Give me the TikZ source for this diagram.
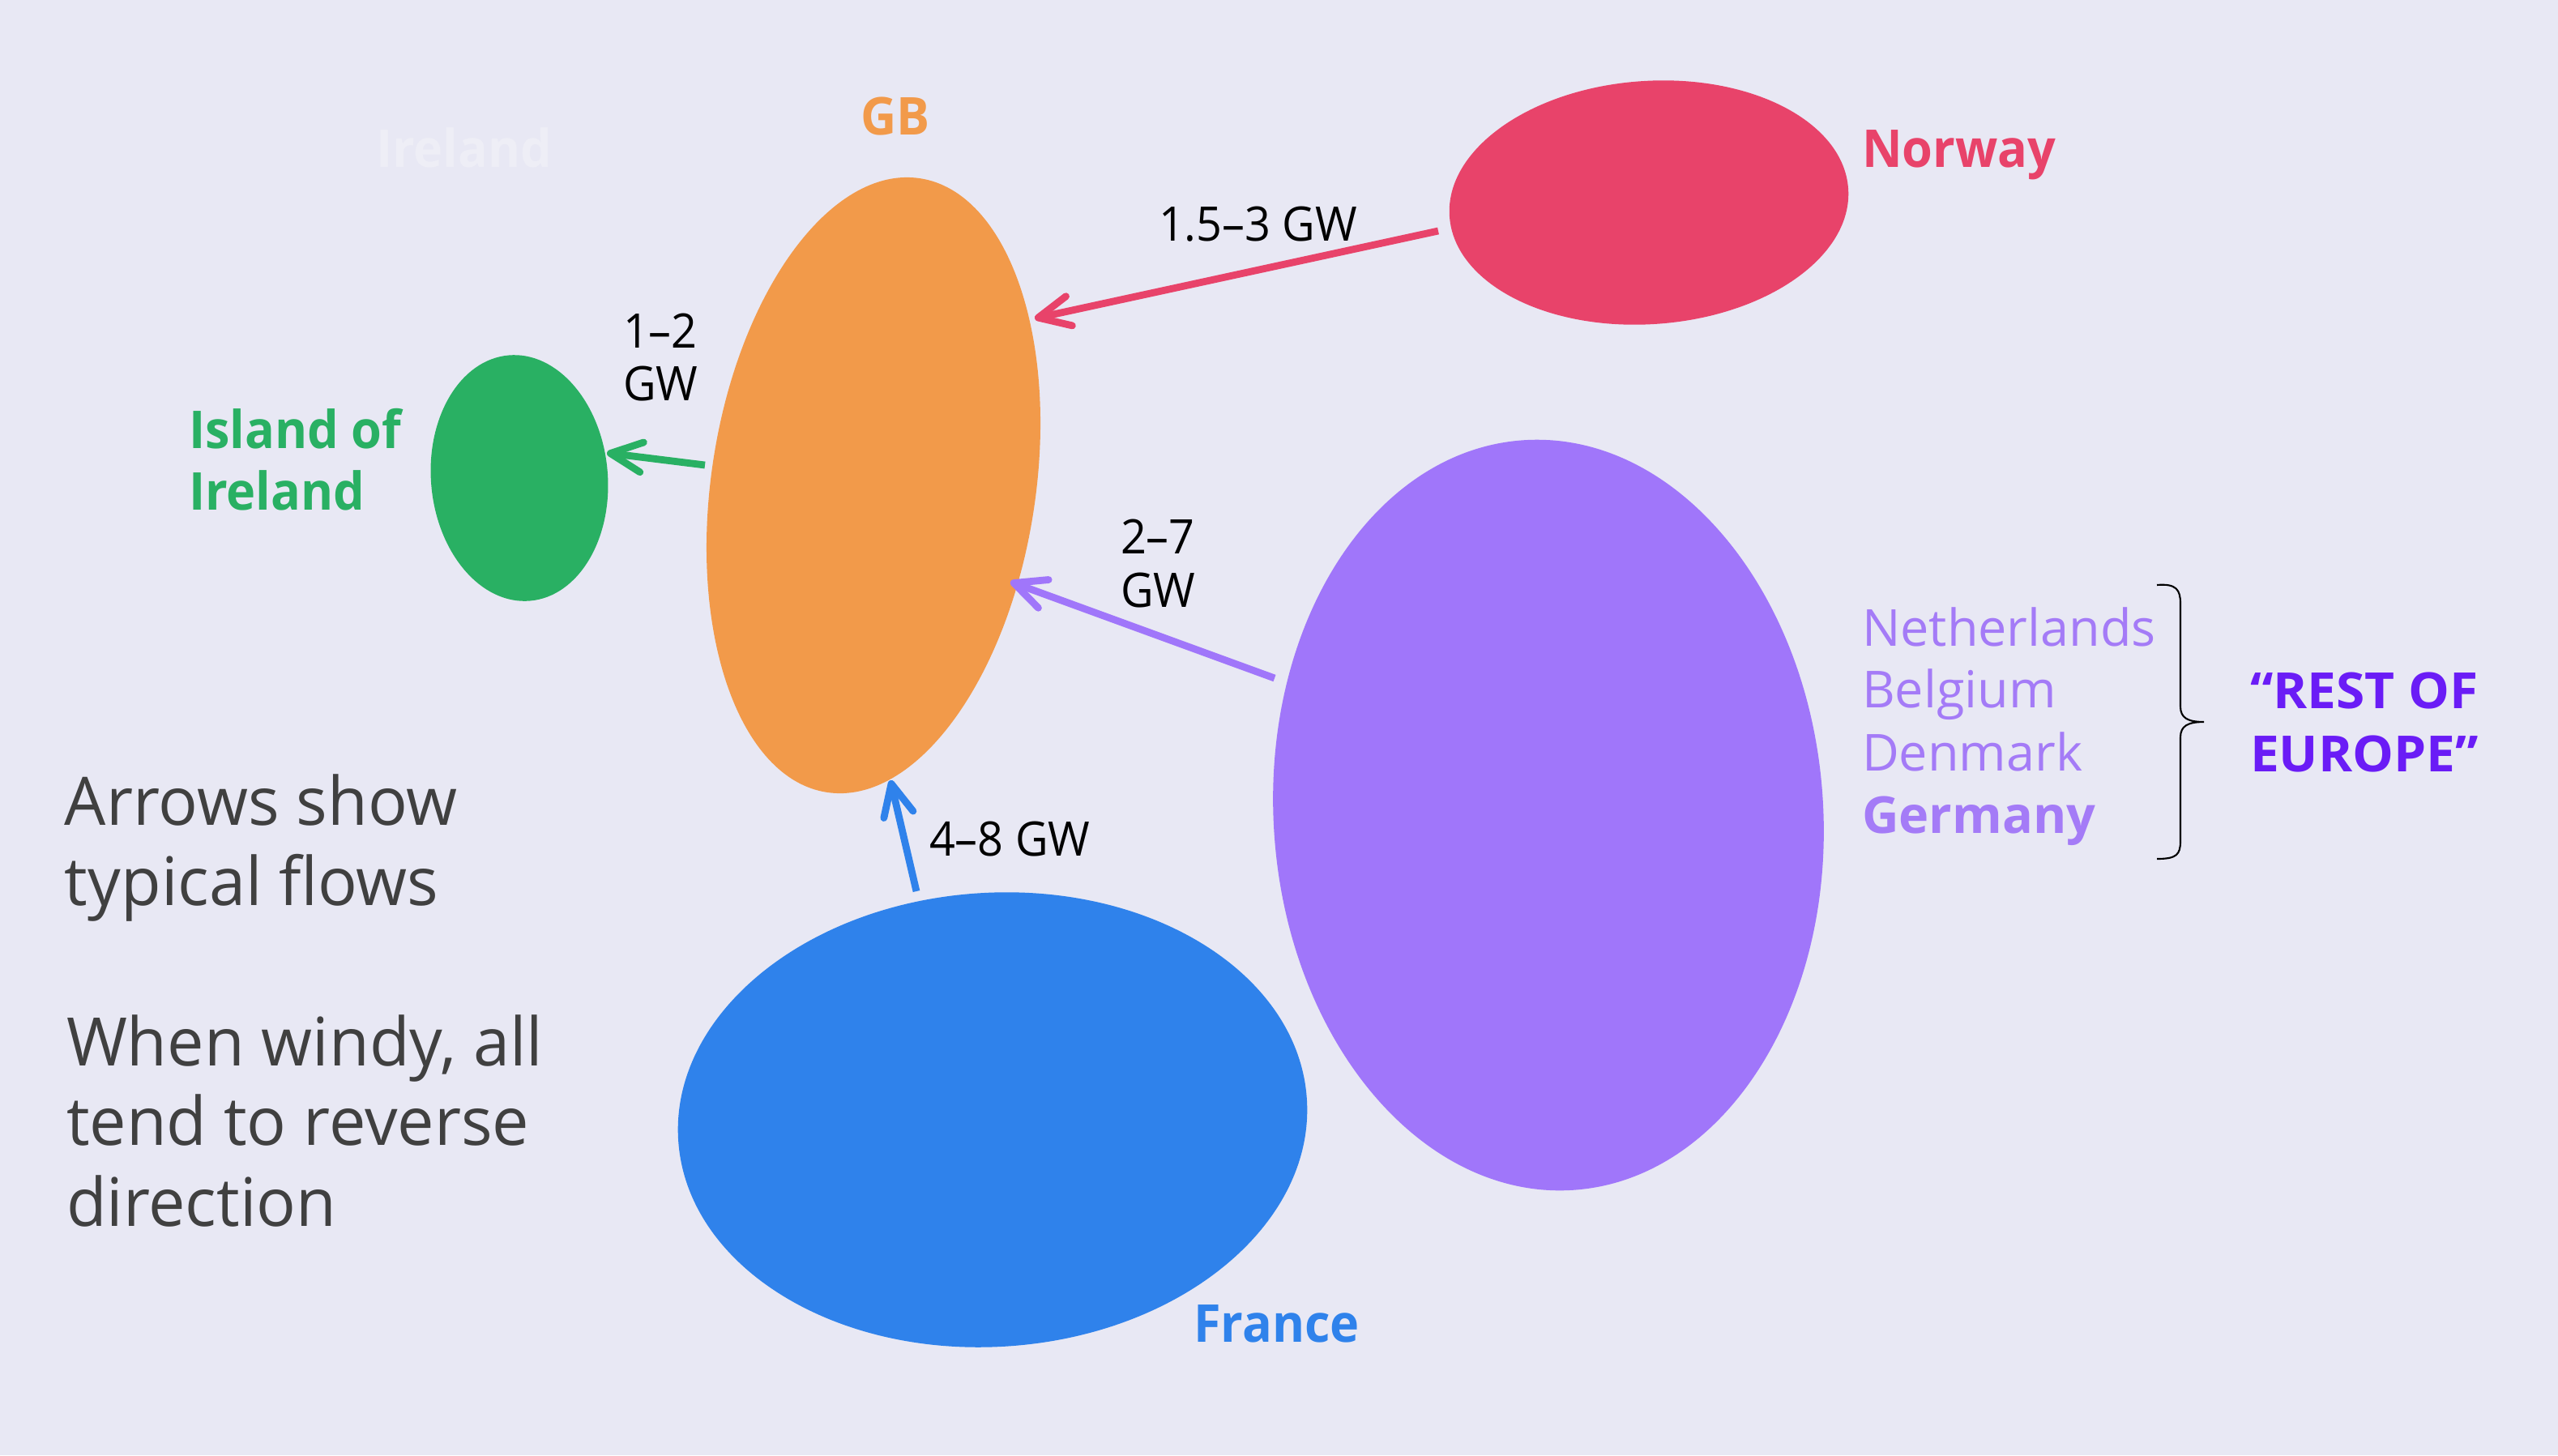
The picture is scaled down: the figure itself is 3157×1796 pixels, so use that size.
\documentclass[tikz,border=0pt]{standalone}
\usepackage{fontspec}
\setmainfont{Open Sans}
\usetikzlibrary{arrows.meta,shapes.geometric}
\definecolor{bgcol}{HTML}{E8E8F4}
\definecolor{cOrange}{HTML}{F29A4A}
\definecolor{cRed}{HTML}{E8436A}
\definecolor{cGreen}{HTML}{29B063}
\definecolor{cBlue}{HTML}{2F82EB}
\definecolor{cPurple}{HTML}{A076FA}
\definecolor{cLilac}{HTML}{A47BF7}
\definecolor{cViolet}{HTML}{6A1CF6}
\definecolor{cGrey}{HTML}{404040}
\definecolor{cGhost}{HTML}{EEEEF6}
\begin{document}
\begin{tikzpicture}[x=0.01cm,y=-0.01cm,
  blob/.style={ellipse, draw=none, inner sep=0pt, outer sep=0pt},
  flow/.style={line width=0.088cm, -{Straight Barb[length=3.9mm,width=3.7mm,round]}},
  lbl/.style={anchor=base west, inner sep=0pt, outer sep=0pt},
  country/.style={lbl, font=\fontsize{18.3pt}{22pt}\selectfont\bfseries\addfontfeature{FakeStretch=0.95}},
  gw/.style={lbl, font=\fontsize{16.7pt}{20pt}\selectfont\addfontfeature{FakeStretch=0.95}, text=black},
  note/.style={lbl, font=\fontsize{23.5pt}{28pt}\selectfont\addfontfeature{FakeStretch=0.98}, text=cGrey},
  member/.style={lbl, font=\fontsize{17.9pt}{22pt}\selectfont, text=cLilac},
  group/.style={lbl, font=\fontsize{17.5pt}{22pt}\selectfont\bfseries\addfontfeature{FakeStretch=1.04}, text=cViolet}
]
\fill[bgcol] (0,0) rectangle (3157,1796);
\useasboundingbox (0,0) rectangle (3157,1796);

% regions
\node[blob, fill=cRed, minimum width=4.93cm, minimum height=3.0cm, rotate=4] (norway) at (2035,250) {};
\node[blob, fill=cOrange, minimum width=4.0cm, minimum height=7.66cm, rotate=-8.6] (gb) at (1078,599) {};
\node[blob, fill=cGreen, minimum width=2.18cm, minimum height=3.04cm, rotate=5] (ireland) at (641,590) {};
\node[blob, fill=cPurple, minimum width=6.78cm, minimum height=9.27cm, rotate=3.8] (europe) at (1911,1006) {};
\node[blob, fill=cBlue, minimum width=7.77cm, minimum height=5.6cm, rotate=3.8] (france) at (1225,1382) {};

% connector ends
\coordinate (norwayOut) at (1775,285);
\coordinate (gbFromNorway) at (1277,393);
\coordinate (gbOut) at (870,574);
\coordinate (irelandIn) at (749,559);
\coordinate (europeOut) at (1573,837);
\coordinate (gbFromEurope) at (1247,718);
\coordinate (franceOut) at (1131,1100);
\coordinate (gbFromFrance) at (1099,963);

\draw[flow, cRed] (norwayOut) -- (gbFromNorway);
\draw[flow, cGreen] (gbOut) -- (irelandIn);
\draw[flow, cPurple] (europeOut) -- (gbFromEurope);
\draw[flow, cBlue] (franceOut) -- (gbFromFrance);

% country labels
\node[country, text=cGhost] (ghostIreland) at (464,206) {Ireland};
\node[country, text=cOrange] (lblGB) at (1062,166) {GB};
\node[country, text=cRed] (lblNorway) at (2298,206) {Norway};
\node[country, text=cGreen] (lblIsland1) at (233,553) {Island of};
\node[country, text=cGreen] (lblIsland2) at (233,629) {Ireland};
\node[country, text=cBlue] (lblFrance) at (1473,1656) {France};

% flow labels
\node[gw] (gwNorway) at (1430,297) {1.5–3 GW};
\node[gw] (gwIre1) at (769,429) {1–2};
\node[gw] (gwIre2) at (769,494) {GW};
\node[gw] (gwEu1) at (1383,683) {2–7};
\node[gw] (gwEu2) at (1383,749) {GW};
\node[gw] (gwFr) at (1147,1056) {4–8 GW};

% notes
\node[note] (note1) at (80,1018) {Arrows show};
\node[note] (note2) at (80,1117) {typical flows};
\node[note] (note3) at (82,1315) {When windy, all};
\node[note] (note4) at (82,1413) {tend to reverse};
\node[note] (note5) at (82,1513) {direction};

% rest of Europe
\node[member] (mNL) at (2298,797) {Netherlands};
\node[member] (mBE) at (2298,873) {Belgium};
\node[member] (mDK) at (2298,951) {Denmark};
\node[member, font=\fontsize{17.9pt}{22pt}\selectfont\bfseries] (mDE) at (2298,1028) {Germany};
\draw[black, line width=0.6pt] (2662,722) .. controls (2686,720) and (2691,728) .. (2691,745)
  -- (2691,872) .. controls (2691,886) and (2700,891) .. (2720,891)
  .. controls (2700,891) and (2691,896) .. (2691,910)
  -- (2691,1038) .. controls (2691,1055) and (2686,1060) .. (2662,1060);
\node[group] (grp1) at (2777,874) {“REST OF};
\node[group] (grp2) at (2777,952) {EUROPE”};
\end{tikzpicture}
\end{document}
